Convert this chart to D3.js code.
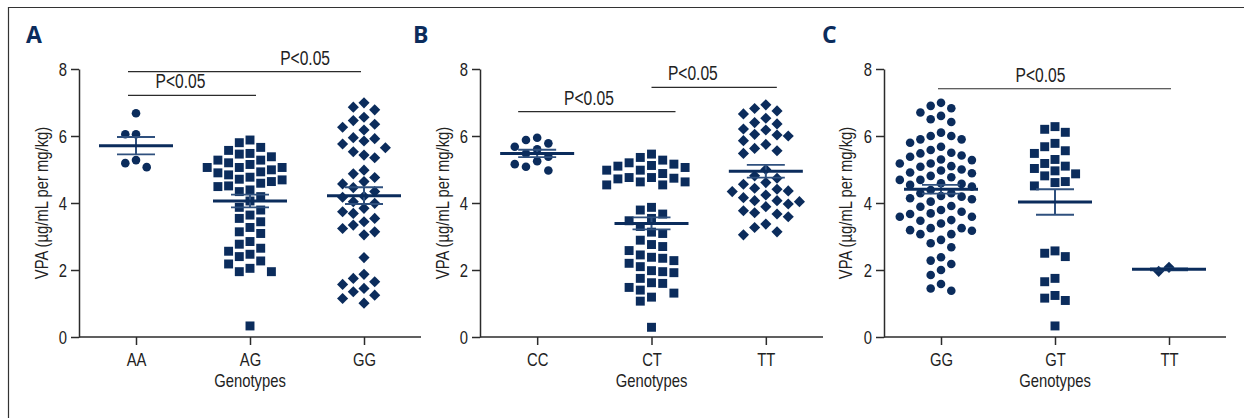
<!DOCTYPE html>
<html>
<head>
<meta charset="utf-8">
<script src="https://cdn.jsdelivr.net/npm/d3@7"></script>
<style>
  body { margin: 0; background: #fff; }
</style>
</head>
<body>
<div id="chart"></div>
<script>
var width = 1244,
    height = 418;

// tick labels and categories
var yTicks = [0, 2, 4, 6, 8];
var catsA = ["AA", "AG", "GG"];
var catsB = ["CC", "CT", "TT"];
var catsC = ["GG", "GT", "TT"];

// panel A values (VPA, ug/mL per mg/kg)
var aAA = [6.68, 6.05, 6.05, 5.28, 5.19, 5.07];
var aAG = [5.88, 5.80, 5.66, 5.57, 5.48, 5.46, 5.38, 5.28, 5.28, 5.20, 5.15, 5.06, 5.06, 5.06, 4.99,
           4.93, 4.90, 4.84, 4.77, 4.71, 4.69, 4.64, 4.59, 4.51, 4.49, 4.39, 4.34, 4.19, 4.06, 3.87,
           3.79, 3.64, 3.54, 3.44, 3.27, 3.14, 3.09, 2.85, 2.77, 2.65, 2.56, 2.47, 2.40, 2.27, 2.18,
           2.05, 1.95, 1.95, 0.33];
var aGG = [6.99, 6.86, 6.78, 6.56, 6.46, 6.35, 6.26, 6.18, 5.95, 5.92, 5.85, 5.76, 5.65, 5.53, 5.43,
           5.35, 4.98, 4.87, 4.76, 4.64, 4.57, 4.46, 4.34, 4.20, 4.17, 4.04, 3.99, 3.84, 3.74, 3.69,
           3.54, 3.44, 3.34, 3.24, 3.14, 3.05, 2.37, 1.87, 1.75, 1.65, 1.57, 1.45, 1.35, 1.25, 1.15,
           1.01];

// panel B values
var bCC = [5.95, 5.88, 5.78, 5.68, 5.60, 5.48, 5.38, 5.25, 5.16, 5.08, 4.97];
var bCT = [5.46, 5.36, 5.28, 5.20, 5.16, 5.12, 5.10, 5.06, 4.98, 4.98, 4.88, 4.76, 4.76, 4.74, 4.72,
           4.63, 4.63, 4.54, 4.54, 3.87, 3.79, 3.67, 3.54, 3.47, 3.30, 3.13, 3.09, 2.89, 2.76, 2.70,
           2.58, 2.45, 2.38, 2.35, 2.28, 2.20, 2.10, 1.98, 1.95, 1.92, 1.75, 1.62, 1.60, 1.48, 1.40,
           1.31, 1.19, 1.07, 0.29];
var bTT = [6.93, 6.82, 6.75, 6.66, 6.53, 6.40, 6.36, 6.21, 6.18, 6.05, 6.03, 6.00, 5.86, 5.75, 5.63,
           5.56, 5.48, 5.00, 4.81, 4.74, 4.61, 4.56, 4.44, 4.41, 4.36, 4.34, 4.24, 4.16, 4.07, 4.07,
           4.04, 3.97, 3.89, 3.77, 3.71, 3.67, 3.59, 3.37, 3.27, 3.14, 3.05];

// panel C values
var cGG = [6.99, 6.90, 6.83, 6.70, 6.60, 6.50, 6.42, 6.10, 6.00, 6.00, 5.90, 5.90, 5.80, 5.68, 5.58,
           5.50, 5.48, 5.42, 5.38, 5.30, 5.28, 5.18, 5.18, 5.10, 5.08, 5.00, 4.97, 4.91, 4.89, 4.81,
           4.77, 4.69, 4.69, 4.59, 4.57, 4.54, 4.49, 4.39, 4.29, 4.29, 4.21, 4.19, 4.14, 4.11, 4.04,
           3.91, 3.89, 3.79, 3.74, 3.69, 3.67, 3.59, 3.59, 3.49, 3.47, 3.39, 3.25, 3.25, 3.19, 3.17,
           3.07, 3.07, 2.90, 2.80, 2.68, 2.38, 2.28, 2.18, 2.00, 1.85, 1.58, 1.45, 1.38];
var cGT = [6.28, 6.20, 6.11, 5.78, 5.68, 5.56, 5.48, 5.30, 5.18, 5.10, 5.03, 4.96, 4.87, 4.81, 4.64,
           4.61, 4.51, 2.57, 2.50, 2.40, 1.75, 1.65, 1.24, 1.16, 1.09, 0.33];
var cTT = [2.08, 1.96];

// mean and SEM as shown
var meanA = [5.71, 4.06, 4.22], semA = [0.26, 0.19, 0.25];
var meanB = [5.48, 3.39, 4.95], semB = [0.11, 0.18, 0.19];
var meanC = [4.41, 4.03, 2.02], semC = [0.13, 0.38, 0.03];

// significance brackets
var sigA = [{from: 0, to: 2, y: 7.92, label: "P<0.05", at: 0.76, dx1: -8, dx2: -3},
            {from: 0, to: 1, y: 7.21, label: "P<0.05", at: 0.41, dx1: -8, dx2: 6}];
var sigB = [{from: 0, to: 1, y: 6.73, label: "P<0.05", at: 0.45, dx1: -19, dx2: 24},
            {from: 1, to: 2, y: 7.45, label: "P<0.05", at: 0.33, dx1: 0, dx2: 11}];
var sigC = [{from: 0, to: 2, y: 7.41, label: "P<0.05", at: 0.44, dx1: -3, dx2: 2}];

var navy = "#0b2c5c",
    errColor = "#2f507e",
    axisColor = "#2b2b2b",
    textColor = "#222",
    font = "'Liberation Sans', Arial, sans-serif",
    squeeze = 0.8; // narrow look of the original condensed type

var svg = d3.select("#chart").append("svg")
    .attr("width", width)
    .attr("height", height)
    .style("background", "#fff");

// frame (top and left edge of the figure box)
svg.append("line").attr("x1", 8).attr("y1", 7.5).attr("x2", width).attr("y2", 7.5)
    .attr("stroke", "#333").attr("stroke-width", 1.2);
svg.append("line").attr("x1", 8.5).attr("y1", 7).attr("x2", 8.5).attr("y2", height)
    .attr("stroke", "#333").attr("stroke-width", 1.2);

var y = d3.scaleLinear().domain([0, 8]).range([337, 69]);

var panels = [
  {label: "A", lx: 26, axisX: 79,  right: 421,  ylabX: 42,  cats: catsA, groups: [aAA, aAG, aGG],
   shapes: ["circle", "square", "diamond"], mean: meanA, sem: semA, sig: sigA, lane: 10.7},
  {label: "B", lx: 413, axisX: 480, right: 823, ylabX: 443, cats: catsB, groups: [bCC, bCT, bTT],
   shapes: ["circle", "square", "diamond"], mean: meanB, sem: semB, sig: sigB, lane: 11.2},
  {label: "C", lx: 822, axisX: 884, right: 1226, ylabX: 846, cats: catsC, groups: [cGG, cGT, cTT],
   shapes: ["circle", "square", "diamond"], mean: meanC, sem: semC, sig: sigC, lane: 10.3}
];

var symbols = {
  circle: d3.symbol().type(d3.symbolCircle).size(58),
  square: d3.symbol().type(d3.symbolSquare).size(80),
  diamond: d3.symbol().type(d3.symbolSquare).size(62)
};

// narrow text placed at x,y
function label(g, x, y, txt, size, anchor, rot) {
  return g.append("text")
    .attr("transform", "translate(" + x + "," + y + ")" + (rot ? " rotate(" + rot + ")" : "") +
                       " scale(" + squeeze + ",1)")
    .attr("text-anchor", anchor || "middle")
    .attr("font-family", font)
    .attr("font-size", size + "px")
    .attr("fill", textColor)
    .text(txt);
}

// lane based swarm, like the prism dot plots
function swarm(values, thresh) {
  var pts = values.map(function(v) { return {v: v}; })
                  .sort(function(a, b) { return b.v - a.v; });
  var lanes = {};
  pts.forEach(function(p) {
    var py = y(p.v);
    for (var k = 0; ; k++) {
      var lane = k === 0 ? 0 : (k % 2 ? -Math.ceil(k / 2) : Math.ceil(k / 2));
      var arr = lanes[lane] || [];
      var ok = arr.every(function(q) { return Math.abs(q - py) >= thresh; });
      if (ok) {
        arr.push(py);
        lanes[lane] = arr;
        p.lane = lane;
        break;
      }
    }
  });
  return pts;
}

panels.forEach(function(p) {
  var g = svg.append("g");

  var x = d3.scalePoint().domain(p.cats).range([p.axisX, p.right]).padding(0.5);

  // panel letter
  g.append("text")
    .attr("x", p.lx)
    .attr("y", 43)
    .attr("font-family", "'Open Sans', 'DejaVu Sans', sans-serif")
    .attr("font-weight", "bold")
    .attr("font-size", "23px")
    .attr("fill", navy)
    .text(p.label);

  // y axis
  var yAxis = g.append("g")
    .attr("transform", "translate(" + p.axisX + ",0)")
    .call(d3.axisLeft(y).tickValues(yTicks).tickSize(8).tickSizeOuter(0).tickPadding(4));
  yAxis.selectAll("text")
    .attr("x", -12 / squeeze)
    .attr("dy", "0.36em")
    .attr("transform", "scale(" + squeeze + ",1)");

  // x axis
  var xAxis = g.append("g")
    .attr("transform", "translate(0," + y(0) + ")")
    .call(d3.axisBottom(x).tickSize(8).tickSizeOuter(0).tickPadding(6));
  xAxis.select(".domain").attr("d", "M" + p.axisX + ",0H" + p.right);
  xAxis.selectAll("text")
    .attr("y", 29)
    .attr("dy", 0)
    .attr("transform", "scale(" + squeeze + ",1)");

  [yAxis, xAxis].forEach(function(a) {
    a.selectAll("path, line").attr("stroke", axisColor).attr("stroke-width", 1.5);
    a.selectAll("text")
      .attr("font-family", font)
      .attr("font-size", "18.5px")
      .attr("fill", textColor);
  });

  // axis titles
  label(g, p.ylabX, 203, "VPA (\u00b5g/mL per mg/kg)", 18.5, "middle", -90)
    .attr("dy", "0.35em");
  label(g, x(p.cats[1]), 387, "Genotypes", 18.5, "middle");

  // dots
  p.groups.forEach(function(vals, i) {
    var cx = x(p.cats[i]);
    var pts = swarm(vals, 11);
    g.selectAll(".pt" + i)
      .data(pts)
      .enter().append("path")
      .attr("d", symbols[p.shapes[i]])
      .attr("transform", function(d) {
        var t = "translate(" + (cx + d.lane * p.lane) + "," + y(d.v) + ")";
        return p.shapes[i] === "diamond" ? t + " rotate(45)" : t;
      })
      .attr("fill", navy);

    // mean +- SEM
    var m = p.mean[i], s = p.sem[i];
    g.append("line")
      .attr("x1", cx).attr("x2", cx)
      .attr("y1", y(m + s)).attr("y2", y(m - s))
      .attr("stroke", errColor).attr("stroke-width", 2);
    [m + s, m - s].forEach(function(v) {
      g.append("line")
        .attr("x1", cx - 19).attr("x2", cx + 19)
        .attr("y1", y(v)).attr("y2", y(v))
        .attr("stroke", errColor).attr("stroke-width", 1.8);
    });
    g.append("line")
      .attr("x1", cx - 37).attr("x2", cx + 37)
      .attr("y1", y(m)).attr("y2", y(m))
      .attr("stroke", navy).attr("stroke-width", 3);
  });

  // significance lines
  p.sig.forEach(function(s) {
    var x1 = x(p.cats[s.from]) + s.dx1,
        x2 = x(p.cats[s.to]) + s.dx2;
    g.append("line")
      .attr("x1", x1).attr("x2", x2)
      .attr("y1", y(s.y)).attr("y2", y(s.y))
      .attr("stroke", axisColor).attr("stroke-width", 1.2);
    label(g, x1 + (x2 - x1) * s.at, y(s.y) - 7, s.label, 19.5, "middle");
  });
});
</script>
</body>
</html>
